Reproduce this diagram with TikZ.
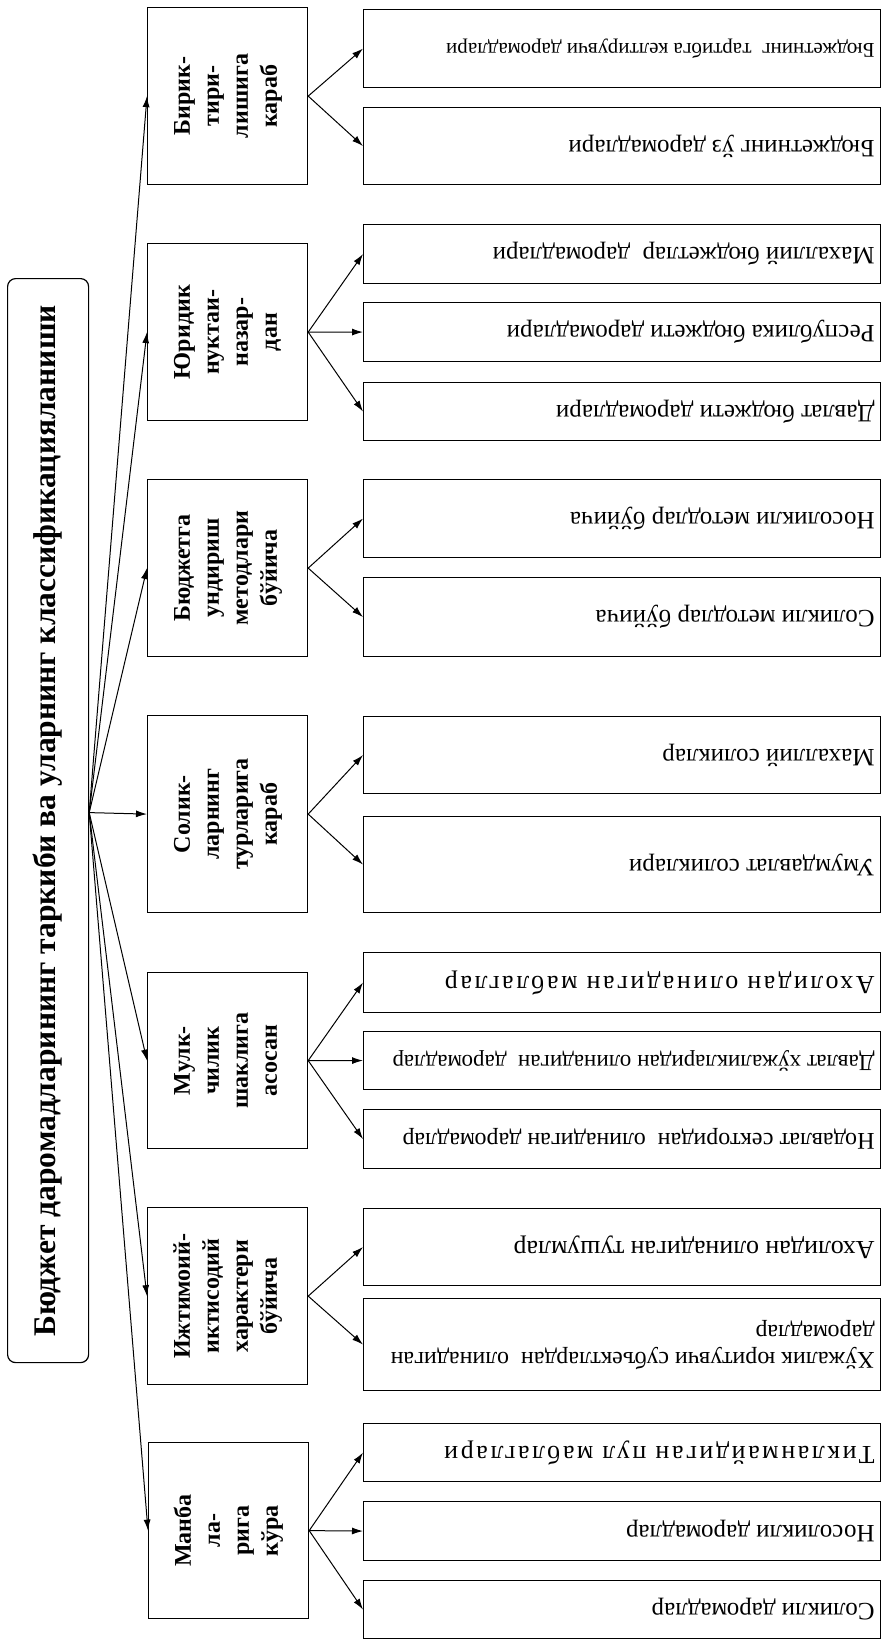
\documentclass[tikz,border=0pt]{standalone}
\usepackage{fontspec}
\setmainfont{Liberation Serif}
\newfontfamily\spacedfont[LetterSpace=10]{Liberation Serif}
\usetikzlibrary{arrows.meta,calc}
\newcommand{\lfflip}[1]{\makebox[505pt][r]{\rotatebox{180}{#1}}}
\newcommand{\ctxt}[1]{\rotatebox{90}{\begin{tabular}{@{}c@{}}#1\end{tabular}}}
\begin{document}
\begin{tikzpicture}[x=1pt,y=-1pt,
  catbox/.style={draw, line width=1.2pt, minimum width=160pt, inner sep=0pt, anchor=north west,
    font=\fontsize{24}{29}\selectfont\bfseries},
  leafbox/.style={draw, line width=1.1pt, minimum width=517pt, inner sep=0pt, anchor=north west,
    font=\fontsize{25}{28}\selectfont},
  arr/.style={-{Latex[length=11pt,width=7pt]}, line width=1pt}]
\useasboundingbox[fill=white] (0,0) rectangle (886,1640);

% title
\node[draw, line width=1.2pt, rounded corners=8pt, minimum width=81pt, minimum height=1084pt,
  inner sep=0pt, anchor=north west] (title) at (7,278)
  {\rotatebox{90}{\fontsize{31.5}{35}\selectfont\bfseries Бюджет даромадларининг таркиби ва уларнинг классификацияланиши}};
\coordinate (hub) at ($(title.east)+(0,-8)$);

% categories
\node[catbox, minimum height=177pt] (c1) at (147,7) {\ctxt{Бирик-\\тири-\\лишига\\караб}};
\node[catbox, minimum height=177pt] (c2) at (147,243) {\ctxt{Юридик\\нуктаи-\\назар-\\дан}};
\node[catbox, minimum height=177pt] (c3) at (147,479) {\ctxt{Бюджетга\\ундириш\\методлари\\бўйича}};
\node[catbox, minimum height=197pt] (c4) at (147,715) {\ctxt{Солик-\\ларнинг\\турларига\\караб}};
\node[catbox, minimum height=176pt] (c5) at (147,972) {\ctxt{Мулк-\\чилик\\шаклига\\асосан}};
\node[catbox, minimum height=177pt] (c6) at (147,1207) {\ctxt{Ижтимоий-\\иктисодий\\характери\\бўйича}};
\node[catbox, minimum height=176pt] (c7) at (148,1442) {\ctxt{Манба\\ла-\\рига\\кўра}};

% leaves
\node[leafbox, minimum height=78pt, font=\fontsize{21}{24}\selectfont] (l1a) at (363,9) {\lfflip{Бюджетнинг\ \ тартибга келтирувчи даромадлари}};
\node[leafbox, minimum height=77pt] (l1b) at (363,107) {\lfflip{Бюджетнинг ўз даромадлари}};

\node[leafbox, minimum height=59pt] (l2a) at (363,224) {\lfflip{Махаллий бюджетлар\ \ даромадлари}};
\node[leafbox, minimum height=59pt] (l2b) at (363,302) {\lfflip{Республика бюджети даромадлари}};
\node[leafbox, minimum height=58pt] (l2c) at (363,382) {\lfflip{Давлат бюджети даромадлари}};

\node[leafbox, minimum height=78pt] (l3a) at (363,479) {\lfflip{Носоликли методлар бўйича}};
\node[leafbox, minimum height=79pt] (l3b) at (363,577) {\lfflip{Соликли методлар бўйича}};

\node[leafbox, minimum height=77pt] (l4a) at (363,716) {\lfflip{Махаллий соликлар}};
\node[leafbox, minimum height=96pt] (l4b) at (363,816) {\lfflip{Умумдавлат соликлари}};

\node[leafbox, minimum height=60pt, font=\spacedfont\fontsize{26}{29}\selectfont] (l5a) at (363,952) {\lfflip{Ахолидан олинадиган маблаглар}};
\node[leafbox, minimum height=58pt, font=\fontsize{23}{26}\selectfont] (l5b) at (363,1031) {\lfflip{Давлат хўжаликларидан олинадиган\ \ даромадлар}};
\node[leafbox, minimum height=59pt, font=\fontsize{24}{27}\selectfont] (l5c) at (363,1109) {\lfflip{Нодавлат секторидан\ \ олинадиган даромадлар}};

\node[leafbox, minimum height=77pt, font=\fontsize{26}{29}\selectfont] (l6a) at (363,1208) {\lfflip{Ахолидан олинадиган тушумлар}};
\node[leafbox, minimum height=92pt, font=\fontsize{24}{27}\selectfont] (l6b) at (363,1298) {\lfflip{\begin{tabular}{@{}l@{}}Хўжалик юритувчи субъектлардан\ \ олинадиган\\даромадлар\end{tabular}}};

\node[leafbox, minimum height=58pt, font=\spacedfont\fontsize{26}{29}\selectfont] (l7a) at (363,1423) {\lfflip{Тикланмайдиган пул маблаглари}};
\node[leafbox, minimum height=59pt] (l7b) at (363,1501) {\lfflip{Носоликли даромадлар}};
\node[leafbox, minimum height=58pt] (l7c) at (363,1580) {\lfflip{Соликли даромадлар}};

% arrows from title
\foreach \c in {c1,c2,c3,c4,c5,c6,c7}
  \draw[arr] (hub) -- (\c.west);

% arrows to leaves
\foreach \c/\l in {c1/l1a,c1/l1b,c2/l2a,c2/l2b,c2/l2c,c3/l3a,c3/l3b,c4/l4a,c4/l4b,
  c5/l5a,c5/l5b,c5/l5c,c6/l6a,c6/l6b,c7/l7a,c7/l7b,c7/l7c}
  \draw[arr] (\c.east) -- (\l.west);
\end{tikzpicture}
\end{document}
